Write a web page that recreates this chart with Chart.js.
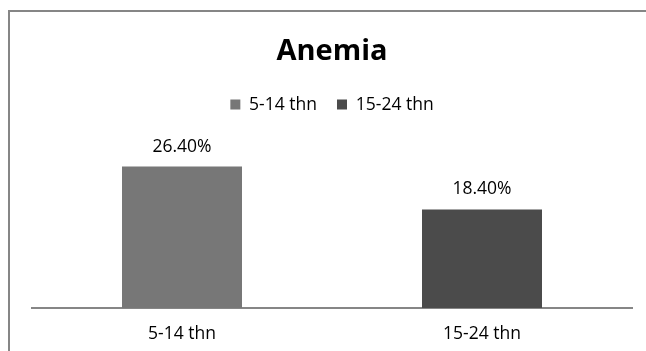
<!DOCTYPE html>
<html>
<head>
<meta charset="utf-8">
<script src="https://cdn.jsdelivr.net/npm/chart.js@4"></script>
<style>
  html, body { margin: 0; padding: 0; background: #fff; overflow: hidden; }
  canvas { display: block; }
</style>
</head>
<body>
<canvas id="c" width="646" height="351"></canvas>
<script>
const categories = ["5-14 thn", "15-24 thn"];
const values = [26.4, 18.4];
const barColors = ["#777777", "#4b4b4b"];
const chartTitle = "Anemia";

const FONT = "'Open Sans', 'Liberation Sans', sans-serif";

const chartFrame = {
  id: 'chartFrame',
  beforeDraw(chart) {
    const ctx = chart.ctx;
    ctx.save();
    ctx.strokeStyle = "#868686";
    ctx.lineWidth = 2;
    ctx.beginPath();
    ctx.moveTo(9, chart.height);
    ctx.lineTo(9, 11);
    ctx.lineTo(chart.width, 11);
    ctx.stroke();
    ctx.restore();
  }
};

const valueLabels = {
  id: 'valueLabels',
  afterDatasetsDraw(chart) {
    const ctx = chart.ctx;
    const meta = chart.getDatasetMeta(0);
    ctx.save();
    ctx.font = "17.5px " + FONT;
    ctx.fillStyle = "#000";
    ctx.textAlign = "center";
    ctx.textBaseline = "alphabetic";
    meta.data.forEach((bar, i) => {
      ctx.fillText(values[i].toFixed(2) + "%", bar.x, bar.y - 15);
    });
    ctx.restore();
  }
};

new Chart(document.getElementById('c'), {
  type: 'bar',
  data: {
    labels: categories,
    datasets: [{
      label: chartTitle,
      data: values,
      backgroundColor: barColors,
      borderWidth: 0,
      categoryPercentage: 1,
      barPercentage: 0.4
    }]
  },
  options: {
    responsive: false,
    animation: false,
    layout: { padding: { left: 32, right: 14, top: 10, bottom: 0 } },
    plugins: {
      title: {
        display: true,
        text: chartTitle,
        color: "#000",
        font: { family: FONT, size: 29, weight: 'bold' },
        padding: { top: 24, bottom: 7 }
      },
      subtitle: {
        display: true,
        text: " ",
        weight: 900,
        font: { size: 10 },
        padding: { top: 0, bottom: 12 }
      },
      legend: {
        display: true,
        position: 'top',
        labels: {
          color: "#000",
          font: { family: FONT, size: 17.5 },
          boxWidth: 10,
          boxHeight: 10,
          padding: 20,
          generateLabels(chart) {
            return categories.map((c, i) => ({
              text: c,
              fillStyle: barColors[i],
              strokeStyle: barColors[i],
              lineWidth: 0,
              datasetIndex: 0,
              index: i
            }));
          }
        }
      },
      tooltip: { enabled: false }
    },
    scales: {
      x: {
        grid: { display: false, drawTicks: false },
        border: { display: true, color: "#868686", width: 2 },
        ticks: { color: "#000", font: { family: FONT, size: 17.5 }, padding: 16 },
        afterFit(scale) { scale.height = 43; }
      },
      y: {
        display: false,
        min: 0,
        max: 30
      }
    }
  },
  plugins: [chartFrame, valueLabels]
});
</script>
</body>
</html>
